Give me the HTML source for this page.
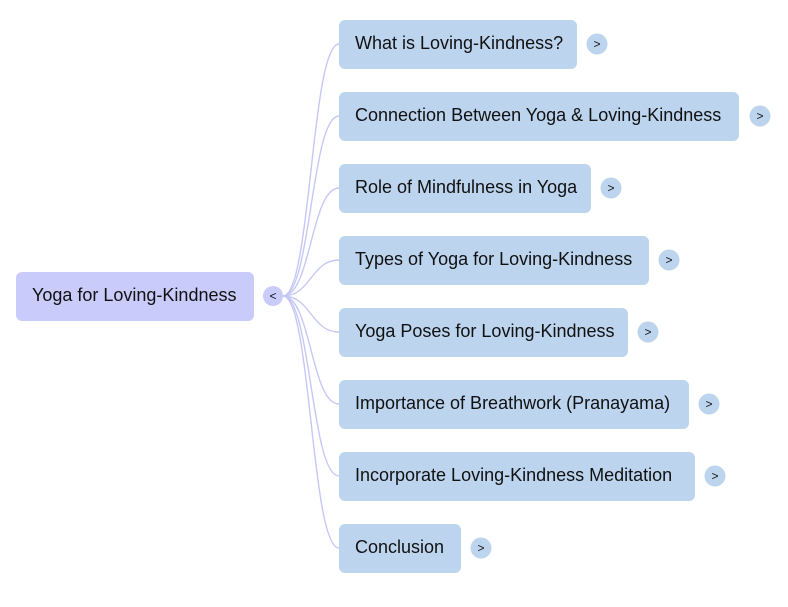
<!DOCTYPE html>
<html><head><meta charset="utf-8"><style>
html,body{margin:0;padding:0;background:#fff;}
svg text{font-family:"Liberation Sans",sans-serif;font-size:18px;fill:#111;}
</style></head><body>
<svg width="788" height="602" viewBox="0 0 788 602" xmlns="http://www.w3.org/2000/svg">
<g fill="none" stroke="#c5c8f6" stroke-width="1.4">
<path d="M283,296 C311,296 311,44 339,44"/>
<path d="M283,296 C311,296 311,116 339,116"/>
<path d="M283,296 C311,296 311,188 339,188"/>
<path d="M283,296 C311,296 311,260 339,260"/>
<path d="M283,296 C311,296 311,332 339,332"/>
<path d="M283,296 C311,296 311,404 339,404"/>
<path d="M283,296 C311,296 311,476 339,476"/>
<path d="M283,296 C311,296 311,548 339,548"/>
</g>
<rect x="16" y="272" width="238" height="49" rx="6" fill="#c9ccfb"/>
<text x="32" y="301">Yoga for Loving-Kindness</text>
<circle cx="273" cy="296" r="10" fill="#c9ccfb"/>
<text x="273" y="300" text-anchor="middle" style="font-size:12px">&lt;</text>
<g fill="#bcd4ee">
<rect x="339" y="20" width="238" height="49" rx="6"/>
<rect x="339" y="92" width="400" height="49" rx="6"/>
<rect x="339" y="164" width="252" height="49" rx="6"/>
<rect x="339" y="236" width="310" height="49" rx="6"/>
<rect x="339" y="308" width="289" height="49" rx="6"/>
<rect x="339" y="380" width="350" height="49" rx="6"/>
<rect x="339" y="452" width="356" height="49" rx="6"/>
<rect x="339" y="524" width="122" height="49" rx="6"/>
<circle cx="597" cy="44" r="10.5"/>
<circle cx="760" cy="116" r="10.5"/>
<circle cx="611" cy="188" r="10.5"/>
<circle cx="669" cy="260" r="10.5"/>
<circle cx="648" cy="332" r="10.5"/>
<circle cx="709" cy="404" r="10.5"/>
<circle cx="715" cy="476" r="10.5"/>
<circle cx="481" cy="548" r="10.5"/>
</g>
<text x="355" y="49">What is Loving-Kindness?</text>
<text x="355" y="121">Connection Between Yoga &amp; Loving-Kindness</text>
<text x="355" y="193">Role of Mindfulness in Yoga</text>
<text x="355" y="265">Types of Yoga for Loving-Kindness</text>
<text x="355" y="337">Yoga Poses for Loving-Kindness</text>
<text x="355" y="409">Importance of Breathwork (Pranayama)</text>
<text x="355" y="481">Incorporate Loving-Kindness Meditation</text>
<text x="355" y="553">Conclusion</text>
<g text-anchor="middle">
<text x="597" y="48" style="font-size:12px">&gt;</text>
<text x="760" y="120" style="font-size:12px">&gt;</text>
<text x="611" y="192" style="font-size:12px">&gt;</text>
<text x="669" y="264" style="font-size:12px">&gt;</text>
<text x="648" y="336" style="font-size:12px">&gt;</text>
<text x="709" y="408" style="font-size:12px">&gt;</text>
<text x="715" y="480" style="font-size:12px">&gt;</text>
<text x="481" y="552" style="font-size:12px">&gt;</text>
</g>
</svg>
</body></html>
